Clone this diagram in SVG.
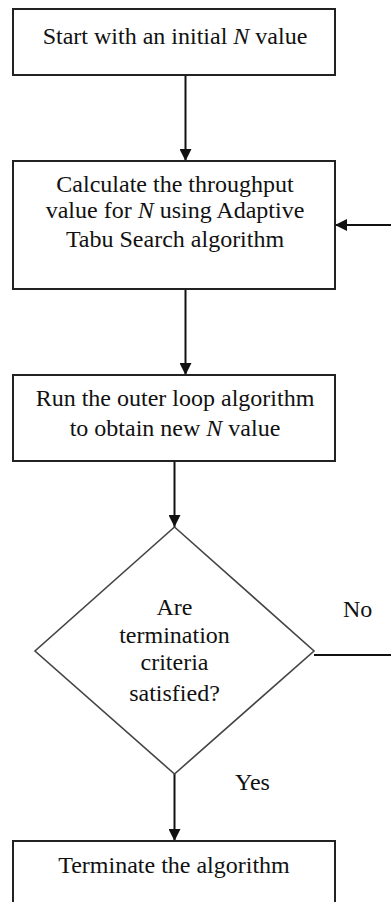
<svg xmlns="http://www.w3.org/2000/svg" width="391" height="902" viewBox="0 0 391 902">
  <style>
    .box { fill: #fff; stroke: #222; stroke-width: 2; }
    .dia { fill: #fff; stroke: #444; stroke-width: 1.6; }
    text { font-family: "Liberation Serif", "DejaVu Serif", "Times New Roman", serif; font-size: 24px; fill: #111; }
    .lbl { text-anchor: middle; }
    .it { font-style: italic; }
    .conn { stroke: #111; stroke-width: 2; fill: none; }
  </style>
  <defs>
    <marker id="arrow" viewBox="0 0 10 10" refX="10" refY="5" markerWidth="6" markerHeight="6" orient="auto" markerUnits="strokeWidth">
      <path d="M0,0 L10,5 L0,10 Z" fill="#111"/>
    </marker>
  </defs>
  <rect width="391" height="902" fill="#fff"/>

  <g id="connectors">
    <line class="conn" x1="185.5" y1="75" x2="185.5" y2="161" marker-end="url(#arrow)"/>
    <line class="conn" x1="185.5" y1="289" x2="185.5" y2="375" marker-end="url(#arrow)"/>
    <line class="conn" x1="174.5" y1="461" x2="174.5" y2="527" marker-end="url(#arrow)"/>
    <line class="conn" x1="174.5" y1="774" x2="174.5" y2="841" marker-end="url(#arrow)"/>
    <line class="conn" x1="314" y1="655" x2="391" y2="655"/>
    <line class="conn" x1="391" y1="225" x2="335" y2="225" marker-end="url(#arrow)"/>
    <text x="343" y="617">No</text>
    <text x="235" y="790">Yes</text>
  </g>

  <g id="start">
    <rect class="box" x="13" y="9" width="322" height="66"/>
    <text class="lbl" x="175" y="44">Start with an initial <tspan class="it">N</tspan> value</text>
  </g>

  <g id="throughput">
    <rect class="box" x="13" y="161" width="322" height="128"/>
    <text class="lbl" x="175" y="192">Calculate the throughput</text>
    <text class="lbl" x="175" y="218">value for <tspan class="it">N</tspan> using Adaptive</text>
    <text class="lbl" x="175" y="247">Tabu Search algorithm</text>
  </g>

  <g id="outer-loop">
    <rect class="box" x="13" y="375" width="322" height="86"/>
    <text class="lbl" x="175" y="406">Run the outer loop algorithm</text>
    <text class="lbl" x="175" y="436">to obtain new <tspan class="it">N</tspan> value</text>
  </g>

  <g id="check">
    <polygon class="dia" points="174.5,527 314,651 174.5,774 35,651"/>
    <text class="lbl" x="174.5" y="615">Are</text>
    <text class="lbl" x="174.5" y="643">termination</text>
    <text class="lbl" x="174.5" y="670">criteria</text>
    <text class="lbl" x="174.5" y="701">satisfied?</text>
  </g>

  <g id="terminate">
    <rect class="box" x="13" y="841" width="322" height="80"/>
    <text class="lbl" x="174" y="873">Terminate the algorithm</text>
  </g>
</svg>
